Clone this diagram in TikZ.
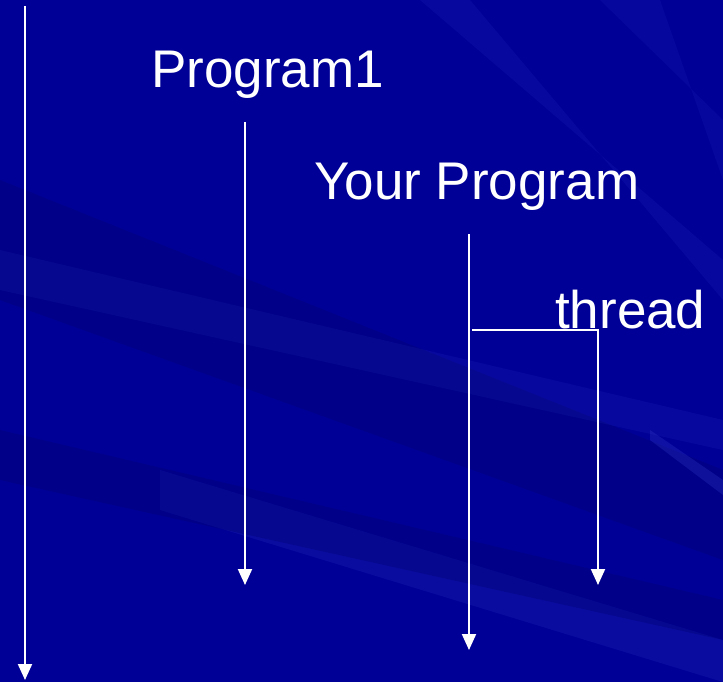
\documentclass[tikz,border=0pt]{standalone}
\usepackage{fontspec}
\setmainfont{Liberation Sans}
\usetikzlibrary{arrows.meta}
\definecolor{bgblue}{RGB}{0,0,150}
\definecolor{raylight}{RGB}{60,70,210}
\definecolor{raydark}{RGB}{0,0,110}
\tikzset{
  flow/.style={draw=white, line width=2pt, -{Triangle[width=14pt,length=16pt]}},
  label/.style={text=white, font=\fontsize{53}{64}\selectfont, anchor=base west, inner sep=0pt}
}
\begin{document}
\begin{tikzpicture}[x=1pt,y=-1pt]
\useasboundingbox (0,0) rectangle (723,682);
\fill[bgblue] (0,0) rectangle (723,682);
% background rays
\begin{scope}
\clip (0,0) rectangle (723,682);
\fill[raydark, opacity=0.35] (0,180) -- (723,470) -- (723,560) -- (0,300) -- cycle;
\fill[raylight, opacity=0.18] (160,470) -- (723,640) -- (723,682) -- (160,510) -- cycle;
\fill[raylight, opacity=0.12] (0,250) -- (723,420) -- (723,450) -- (0,290) -- cycle;
\fill[raylight, opacity=0.12] (420,0) -- (723,260) -- (723,300) -- (470,0) -- cycle;
\fill[raylight, opacity=0.1] (600,0) -- (723,120) -- (723,180) -- (660,0) -- cycle;
\fill[raylight, opacity=0.25] (650,430) -- (723,480) -- (723,495) -- (650,440) -- cycle;
\fill[raydark, opacity=0.3] (0,430) -- (723,600) -- (723,640) -- (0,480) -- cycle;
\end{scope}
% labels
\node[label] (p1) at (151,88) {Program1};
\node[label] (yp) at (314,200) {Your Program};
\node[label] (th) at (555,328) {thread};
% coordinates
\coordinate (a0) at (25,6);
\coordinate (a1) at (25,680);
\coordinate (b0) at (245,122);
\coordinate (b1) at (245,585);
\coordinate (c0) at (469,234);
\coordinate (c1) at (469,650);
\coordinate (d0) at (472,330);
\coordinate (d1) at (598,330);
\coordinate (d2) at (598,585);
\draw[flow] (a0) -- (a1);
\draw[flow] (b0) -- (b1);
\draw[flow] (c0) -- (c1);
\draw[flow] (d0) -- (d1) -- (d2);
\end{tikzpicture}
\end{document}
